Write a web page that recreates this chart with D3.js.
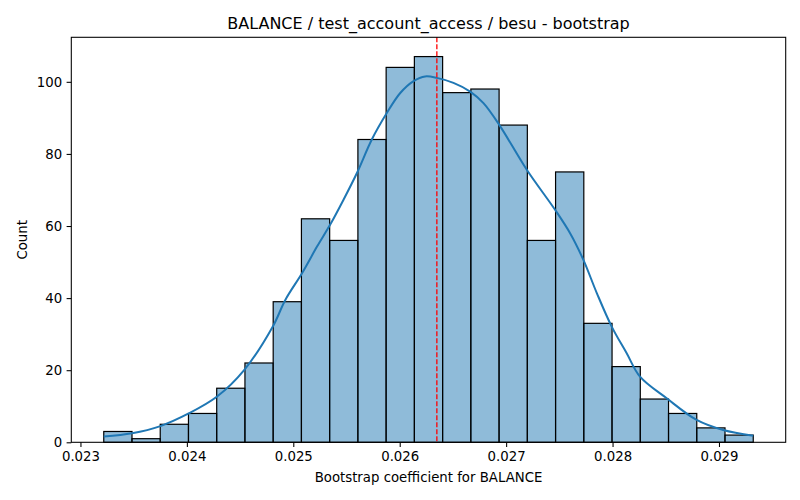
<!DOCTYPE html>
<html>
<head>
<meta charset="utf-8">
<script src="https://cdn.jsdelivr.net/npm/d3@7"></script>
<style>
  body { margin: 0; background: #fff; }
  svg text { font-family: "DejaVu Sans", sans-serif; fill: #000; }
</style>
</head>
<body>
<svg id="chart" width="800" height="500"></svg>
<script>
// histogram bins (23 equal bins between binStart and binEnd)
var binStart = 0.023219;
var binEnd = 0.029322;
var binCounts = [3, 1, 5, 8, 15, 22, 39, 62, 56, 84, 104, 107, 97, 98, 88, 56, 75, 33, 21, 12, 8, 4, 2];

// kde curve (coefficient, count)
var kdeX = [0.023219, 0.023485, 0.023751, 0.024017, 0.024284, 0.024540, 0.024809, 0.024925,
  0.025082, 0.025223, 0.025347, 0.025472, 0.025598, 0.025738, 0.025880, 0.026005, 0.026130,
  0.026239, 0.026349, 0.026505, 0.026662, 0.026787, 0.026937, 0.027194, 0.027460, 0.027601,
  0.027726, 0.027852, 0.027992, 0.028133, 0.028258, 0.028509, 0.028790, 0.029040, 0.029322];
var kdeY = [1.6, 2.5, 4.5, 8.0, 12.7, 20.1, 32.2, 39.5,
  46.9, 54.3, 60.4, 67.3, 74.7, 84.0, 91.4, 96.9, 100.2,
  101.5, 101.1, 99.7, 97.3, 94.1, 88.0, 75.6, 64.5, 58.0,
  50.6, 41.4, 32.1, 24.7, 18.2, 12.2, 6.2, 3.4, 1.8];

var meanValue = 0.026349;

var xTicks = [0.023, 0.024, 0.025, 0.026, 0.027, 0.028, 0.029];
var yTicks = [0, 20, 40, 60, 80, 100];

var titleText = "BALANCE / test_account_access / besu - bootstrap";
var xLabel = "Bootstrap coefficient for BALANCE";
var yLabel = "Count";

var MARGINS = { top: 37.3, right: 14.3, bottom: 57.7, left: 71.3 };
var canvasWidth = 800;
var canvasHeight = 500;
var plotWidth = canvasWidth - MARGINS.left - MARGINS.right;
var plotHeight = canvasHeight - MARGINS.top - MARGINS.bottom;

var svg = d3.select("#chart");
var vis = svg.append("g")
  .attr("transform", "translate(" + MARGINS.left + "," + MARGINS.top + ")");

var x = d3.scaleLinear().domain([0.022914, 0.029627]).range([0, plotWidth]);
var y = d3.scaleLinear().domain([0, 112.35]).range([plotHeight, 0]);

var binWidth = (binEnd - binStart) / binCounts.length;
var bins = binCounts.map(function (c, i) {
  return { x0: binStart + i * binWidth, x1: binStart + (i + 1) * binWidth, count: c };
});

vis.selectAll("rect.bar")
  .data(bins)
  .enter()
  .append("rect")
  .attr("class", "bar")
  .attr("x", function (d) { return x(d.x0); })
  .attr("y", function (d) { return y(d.count); })
  .attr("width", function (d) { return x(d.x1) - x(d.x0); })
  .attr("height", function (d) { return y(0) - y(d.count); })
  .attr("fill", "#1f77b4")
  .attr("fill-opacity", 0.5)
  .attr("stroke", "#000")
  .attr("stroke-width", 1.2);

var kdeLine = d3.line()
  .x(function (d) { return x(kdeX[d]); })
  .y(function (d) { return y(kdeY[d]); })
  .curve(d3.curveCatmullRom);

vis.append("path")
  .attr("d", kdeLine(d3.range(kdeX.length)))
  .attr("fill", "none")
  .attr("stroke", "#1f77b4")
  .attr("stroke-width", 2);

vis.append("line")
  .attr("x1", x(meanValue))
  .attr("x2", x(meanValue))
  .attr("y1", 0)
  .attr("y2", plotHeight)
  .attr("stroke", "red")
  .attr("stroke-width", 1.3)
  .attr("stroke-dasharray", "4.9,2.1");

// axes
var xAxis = vis.append("g")
  .attr("transform", "translate(0," + plotHeight + ")")
  .call(d3.axisBottom(x).tickValues(xTicks).tickFormat(d3.format(".3f")).tickSize(4.7).tickPadding(4.5));

var yAxis = vis.append("g")
  .call(d3.axisLeft(y).tickValues(yTicks).tickSize(4.7).tickPadding(4.5));

[xAxis, yAxis].forEach(function (a) {
  a.select(".domain").remove();
  a.selectAll(".tick line").attr("stroke", "#000").attr("stroke-width", 1.07);
  a.selectAll(".tick text").style("font-size", "13.3px").style("font-family", "DejaVu Sans");
});

// frame
vis.append("rect")
  .attr("x", 0)
  .attr("y", 0)
  .attr("width", plotWidth)
  .attr("height", plotHeight)
  .attr("fill", "none")
  .attr("stroke", "#000")
  .attr("stroke-width", 1.07);

svg.append("text")
  .attr("x", MARGINS.left + plotWidth / 2)
  .attr("y", 29)
  .attr("text-anchor", "middle")
  .style("font-size", "16px")
  .text(titleText);

svg.append("text")
  .attr("x", MARGINS.left + plotWidth / 2)
  .attr("y", 482)
  .attr("text-anchor", "middle")
  .style("font-size", "13.3px")
  .text(xLabel);

svg.append("text")
  .attr("transform", "translate(27," + (MARGINS.top + plotHeight / 2) + ") rotate(-90)")
  .attr("text-anchor", "middle")
  .style("font-size", "13.3px")
  .text(yLabel);
</script>
</body>
</html>
